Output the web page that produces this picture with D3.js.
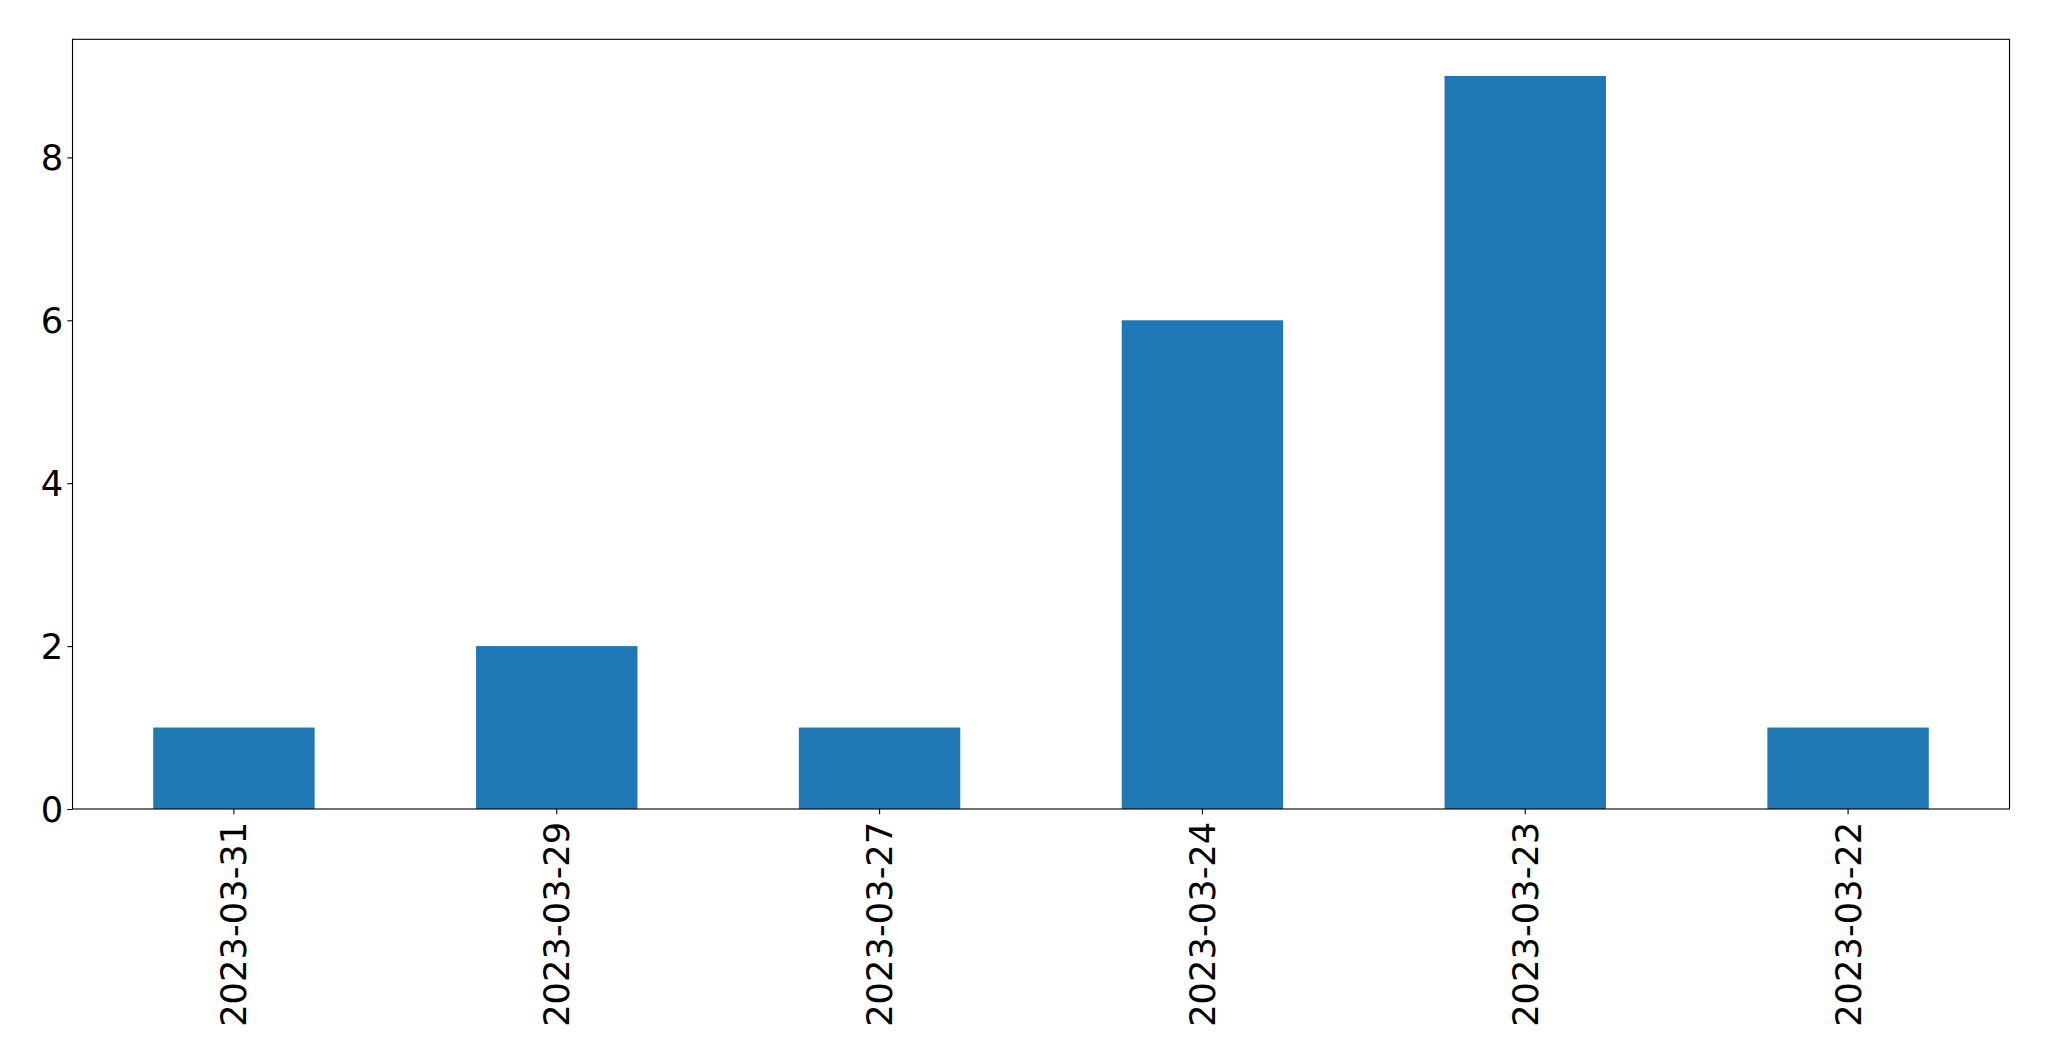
<!DOCTYPE html>
<html>
<head>
<meta charset="utf-8">
<script src="https://cdn.jsdelivr.net/npm/d3@7"></script>
<style>
  html, body { margin: 0; padding: 0; background: #fff; }
  svg { display: block; }
  text { font-family: "DejaVu Sans", sans-serif; fill: #000; }
</style>
</head>
<body>
<script>
const categories = ["2023-03-31", "2023-03-29", "2023-03-27", "2023-03-24", "2023-03-23", "2023-03-22"];
const values = [1, 2, 1, 6, 9, 1];
const yTicks = [0, 2, 4, 6, 8];

(function () {
const W = 2049, H = 1061;
const mLeft = 72.5, mRight = 2009.5, mTop = 39.3, mBottom = 809;
const fontSize = 35.3;
const tickLen = 5.2, pad = 4;

const svg = d3.select("body").append("svg").attr("width", W).attr("height", H);

const x = d3.scaleBand().domain(categories).range([mLeft, mRight]).paddingInner(0.5).paddingOuter(0.25);
const yMax = d3.max(values) * 1.05;
const y = d3.scaleLinear().domain([0, yMax]).range([mBottom, mTop]);

svg.append("g").selectAll("rect").data(values).join("rect")
  .attr("x", (d, i) => x(categories[i]))
  .attr("width", x.bandwidth())
  .attr("y", d => y(d))
  .attr("height", d => y(0) - y(d))
  .attr("fill", "#1f77b4");

svg.append("rect").attr("x", mLeft).attr("y", mTop).attr("width", mRight - mLeft).attr("height", mBottom - mTop)
  .attr("fill", "none").attr("stroke", "#000").attr("stroke-width", 1.1);

const yAxis = d3.axisLeft(y).tickValues(yTicks).tickSize(tickLen).tickPadding(pad).tickFormat(d3.format("d"));
const gy = svg.append("g").attr("transform", `translate(${mLeft},0)`).call(yAxis);
gy.select(".domain").remove();
gy.selectAll("line").attr("stroke", "#000").attr("stroke-width", 1.1);
gy.selectAll("text").attr("font-size", fontSize).attr("font-family", "DejaVu Sans").attr("fill", "#000").attr("dy", "0.35em");

const xAxis = d3.axisBottom(x).tickSize(tickLen).tickPadding(pad);
const gx = svg.append("g").attr("transform", `translate(0,${mBottom})`).call(xAxis);
gx.select(".domain").remove();
gx.selectAll("line").attr("stroke", "#000").attr("stroke-width", 1.1);
gx.selectAll("text")
  .attr("font-size", fontSize).attr("font-family", "DejaVu Sans").attr("fill", "#000")
  .attr("text-anchor", "end")
  .attr("dy", null)
  .attr("dominant-baseline", "central")
  .attr("x", 0).attr("y", 0)
  .attr("transform", `translate(0,${tickLen + pad + 3.5}) rotate(-90)`);
})();
</script>
</body>
</html>
